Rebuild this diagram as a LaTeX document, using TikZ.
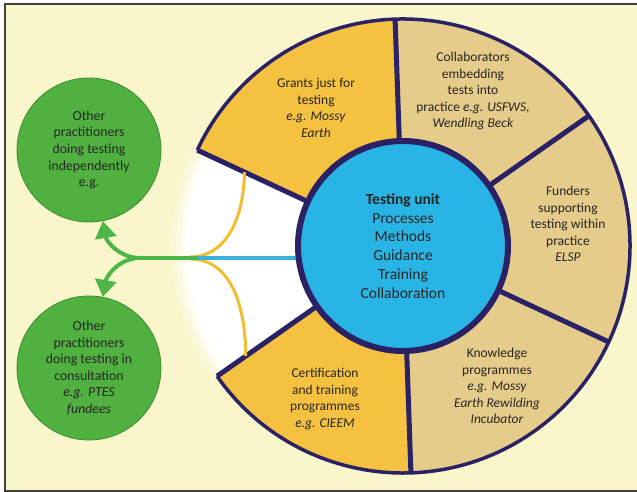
\documentclass[tikz,border=0pt]{standalone}
\usepackage{fontspec}
\setmainfont{Carlito}
\usetikzlibrary{arrows.meta,calc}
\definecolor{bg}{RGB}{248,246,202}
\definecolor{gold}{RGB}{244,193,64}
\definecolor{tan}{RGB}{229,204,138}
\definecolor{navy}{RGB}{42,34,100}
\definecolor{cyanfill}{RGB}{40,180,228}
\definecolor{bluelink}{RGB}{60,176,218}
\definecolor{gfill}{RGB}{80,176,64}
\definecolor{gedge}{RGB}{60,140,48}
\definecolor{garrow}{RGB}{78,182,70}
\definecolor{goldline}{RGB}{240,190,46}
\definecolor{txt}{RGB}{40,38,36}
\tikzset{
  segtext/.style={align=center, text=txt, font=\fontsize{13.5}{16.5}\selectfont, inner sep=0pt},
  greenball/.style={circle, fill=gfill, draw=gedge, line width=0.8pt, minimum size=144pt, inner sep=0pt,
     align=center, text=txt, font=\fontsize{13.8}{16.6}\selectfont},
  divider/.style={navy, line width=5pt},
  greenarrow/.style={garrow, line width=4pt, -{Triangle[width=21pt,length=17pt]}},
  goldcurve/.style={goldline, line width=3pt},
}
\begin{document}
\begin{tikzpicture}[x=1pt,y=1pt]
\clip (0,0) rectangle (637,492);
% frame and background
\fill[white] (0,0) rectangle (637,492);
\fill[bg] (5,1) rectangle (650,488);
\draw[black!75, line width=2.5pt] (5,1) rectangle (650,488);
\coordinate (C) at (403,246);
% ring segments
\fill[gold] (C) -- ++(92:227) arc[start angle=92, end angle=155, radius=227] -- cycle;
\fill[tan]  (C) -- ++(35:227) arc[start angle=35, end angle=92, radius=227] -- cycle;
\fill[tan]  (C) -- ++(-25:227) arc[start angle=-25, end angle=35, radius=227] -- cycle;
\fill[tan]  (C) -- ++(-88:227) arc[start angle=-88, end angle=-25, radius=227] -- cycle;
\fill[gold] (C) -- ++(215:227) arc[start angle=215, end angle=272, radius=227] -- cycle;
% white region with soft edge
\fill[white!25!bg] (C) -- ++(155:232) arc[start angle=155, end angle=215, radius=232] -- cycle;
\fill[white!50!bg] (C) -- ++(155:227) arc[start angle=155, end angle=215, radius=227] -- cycle;
\fill[white!75!bg] (C) -- ++(155:222) arc[start angle=155, end angle=215, radius=222] -- cycle;
\fill[white] (C) -- ++(155:217) arc[start angle=155, end angle=215, radius=217] -- cycle;
% outer border
\draw[navy, line width=3.5pt] (C) ++(215:227) arc[start angle=-145, end angle=155, radius=227];
% dividers
\foreach \a in {92,35,-25,-88,215,155}
  \draw[divider] (C) ++(\a:100) -- ++(\a:127);
% gold curves
\coordinate (gA) at ($(C)+(155:175)$);
\coordinate (gB) at (190,235);
\coordinate (gC) at (190,233);
\coordinate (gD) at ($(C)+(215:192)$);
\draw[goldcurve] (gA) to[out=-90, in=0] (gB);
\draw[goldcurve] (gC) to[out=0, in=90] (gD);
% links
\coordinate (split) at (197,234);
\coordinate (join) at (140,234);
\draw[bluelink, line width=4pt] (split) -- (300,234);
% inner circle
\node[circle, fill=cyanfill, draw=navy, line width=6pt, minimum size=210pt, inner sep=0pt,
  align=center, text=txt, font=\fontsize{15.5}{18.8}\selectfont] (unit) at (C)
  {\textbf{Testing unit}\\Processes\\Methods\\Guidance\\Training\\Collaboration};
% green circles
\node[greenball] (g1) at (89,342) {Other\\practitioners\\doing testing\\independently\\e.g.};
\node[greenball] (g2) at (89,124) {Other\\practitioners\\doing testing in\\consultation\\\textit{e.g. PTES}\\\textit{fundees}};
\draw[garrow, line width=4pt] (split) -- (join);
\draw[greenarrow] (join) to[out=180, in=-80] (g1.-79);
\draw[greenarrow] (join) to[out=180, in=80] (g2.79);
% segment texts
\node[segtext] (grants) at (316,384) {Grants just for\\testing\\\textit{e.g. Mossy}\\\textit{Earth}};
\node[segtext] (collab) at (473,401) {Collaborators\\embedding\\tests into\\practice \textit{e.g. USFWS,}\\\textit{Wendling Beck}};
\node[segtext] (funders) at (568,268) {Funders\\supporting\\testing within\\practice\\\textit{ELSP}};
\node[segtext] (knowledge) at (497,106) {Knowledge\\programmes\\\textit{e.g. Mossy}\\\textit{Earth Rewilding}\\\textit{Incubator}};
\node[segtext] (cert) at (325,93) {Certification\\and training\\programmes\\\textit{e.g. CIEEM}};
\end{tikzpicture}
\end{document}
